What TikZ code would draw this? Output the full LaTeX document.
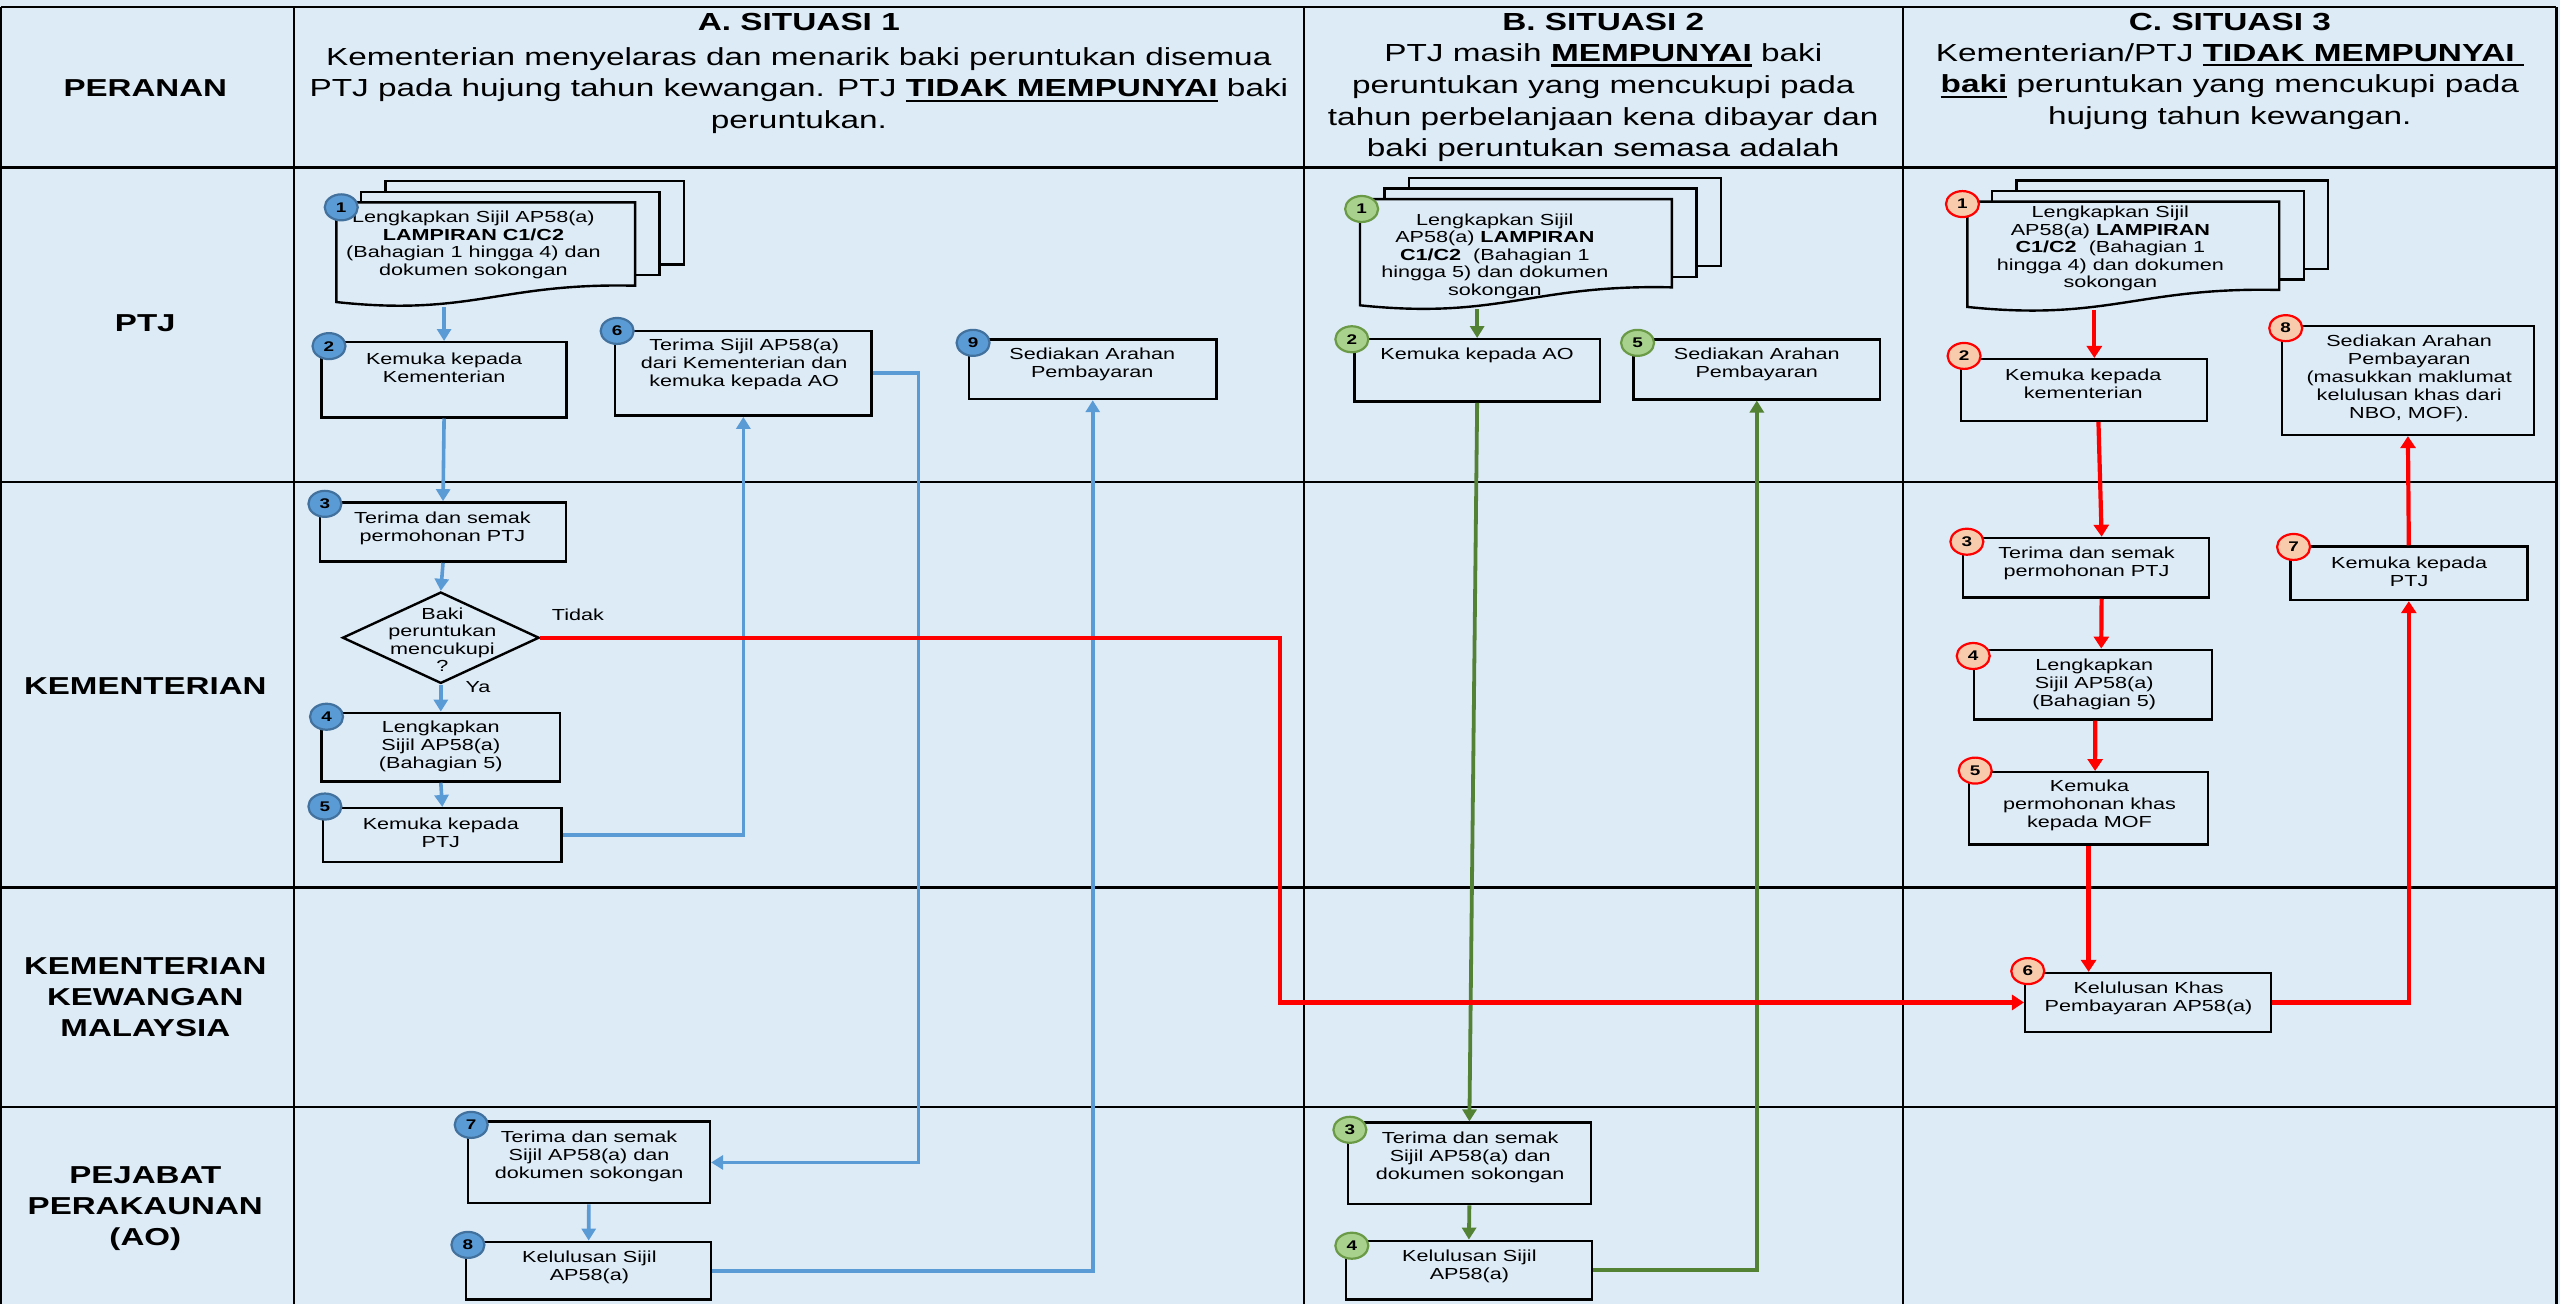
\documentclass[tikz,border=0pt]{standalone}
\usepackage{fontspec}
\setmainfont{Liberation Sans}
\newfontfamily\hf[FakeStretch=1.35]{Liberation Sans}
\usetikzlibrary{arrows.meta,shapes.geometric,fit,calc}
\definecolor{bg}{HTML}{DDEBF7}
\definecolor{blu}{HTML}{5B9BD5}
\definecolor{bluD}{HTML}{41719C}
\definecolor{grn}{HTML}{548235}
\definecolor{grnL}{HTML}{A9D18E}
\definecolor{grnB}{HTML}{6A9A45}
\definecolor{redL}{HTML}{F8CBAD}
\definecolor{rd}{HTML}{FF0000}
\newcommand\ulbold[1]{\vtop{\hbox{\bfseries #1}\kern2.5pt\hrule height 2.4pt}}
\newcommand\docshape[5]{%
  \draw[docln] ({#1+30},{#2-13}) rectangle ({#3+30},{#5-13});
  \draw[docln] ({#1+15},{#2-6.5}) rectangle ({#3+15},{#5-6.5});
  \draw[docln] (#1,#2) -- (#3,#2) -- (#3,#5) .. controls ({#3-0.45*(#3-#1)},{#5-2}) and ({#1+0.45*(#3-#1)},{#4+9}) .. (#1,#4) -- cycle;
}
\begin{document}
\begin{tikzpicture}[x=1.632653pt, y=-1.632653pt,
  grid/.style={line width=2.2pt, black},
  lbl/.style={font=\hf\bfseries\fontsize{24.5}{31}\selectfont, align=center, inner sep=0pt},
  hdr/.style={font=\hf\fontsize{24.7}{31.8}\selectfont, align=center, inner sep=0pt},
  ttl/.style={font=\hf\bfseries\fontsize{24.7}{31.8}\selectfont, align=center, inner sep=0pt},
  box/.style={draw=black, line width=2.4pt, fill=bg, inner sep=0pt},
  docln/.style={draw=black, line width=2.4pt, fill=bg},
  docfit/.style={inner sep=0pt},
  bt/.style={font=\hf\fontsize{16}{18}\selectfont, align=center, inner sep=0pt},
  dt/.style={font=\hf\fontsize{16}{17.5}\selectfont, align=center, inner sep=0pt},
  num/.style={ellipse, minimum width=33pt, minimum height=26pt, inner sep=0pt, line width=2.2pt, font=\hf\bfseries\fontsize{14}{14}\selectfont},
  numA/.style={num, fill=blu, draw=bluD},
  numB/.style={num, fill=grnL, draw=grnB},
  numC/.style={num, fill=redL, draw=rd},
  barrow/.style={draw=blu, line width=3.6pt, -{Triangle[length=12pt,width=14pt]}},
  garrow/.style={draw=grn, line width=3.8pt, -{Triangle[length=12pt,width=14pt]}},
  rarrow/.style={draw=rd, line width=4.2pt, -{Triangle[length=12pt,width=15pt]}}
]
\useasboundingbox (0,0) rectangle (1568,798.7);
\fill[bg] (0,0) rectangle (1568,798.7);

% grid
\draw[grid] (0.6,4.3) -- (1565.8,4.3);
\draw[grid] (0.6,4.3) -- (0.6,798.7);
\draw[grid] (1565.8,4.3) -- (1565.8,798.7);
\foreach \xx in {180,798.5,1165.8} \draw[grid] (\xx,4.3) -- (\xx,798.7);
\foreach \yy in {102.6,295.2,543.6,678} \draw[grid] (0.6,\yy) -- (1565.8,\yy);

% row labels
\node[lbl] (lPer) at (89,54) {PERANAN};
\node[lbl] (lPtj) at (89,198) {PTJ};
\node[lbl] (lKem) at (89,420) {KEMENTERIAN};
\node[lbl] (lKkm) at (89,611) {KEMENTERIAN\\KEWANGAN\\MALAYSIA};
\node[lbl] (lAo) at (89,740) {PEJABAT\\PERAKAUNAN\\(AO)};

% headers
\node[ttl] (hA) at (489.3,13.5) {A. SITUASI 1};
\node[hdr] (hAb) at (489.3,55.5) {Kementerian menyelaras dan menarik baki peruntukan disemua\\PTJ pada hujung tahun kewangan. PTJ \ulbold{TIDAK MEMPUNYAI} baki\\peruntukan.};
\node[ttl] (hB) at (982,13.5) {B. SITUASI 2};
\node[hdr] (hBb) at (982,63) {PTJ masih \ulbold{MEMPUNYAI} baki\\peruntukan yang mencukupi pada\\tahun perbelanjaan kena dibayar dan\\baki peruntukan semasa adalah};
\node[ttl] (hC) at (1365.8,13.5) {C. SITUASI 3};
\node[hdr] (hCb) at (1365.8,53) {Kementerian/PTJ \ulbold{TIDAK MEMPUNYAI\ }\\\ulbold{baki} peruntukan yang mencukupi pada\\hujung tahun kewangan.};

% ---------- documents ----------
\docshape{206}{124}{389}{185}{175}
\node[docfit, fit={(206,124) (389,188)}] (dA) {};
\node[dt] (tA1) at (290,150) {Lengkapkan Sijil AP58(a)\\\textbf{LAMPIRAN C1/C2}\\(Bahagian 1 hingga 4) dan\\dokumen sokongan};

\docshape{833}{122}{1024}{187}{176}
\node[docfit, fit={(833,122) (1024,189)}] (dB) {};
\node[dt] (tB1) at (915.6,157) {Lengkapkan Sijil\\AP58(a) \textbf{LAMPIRAN}\\\textbf{C1/C2}\ \ (Bahagian 1\\hingga 5) dan dokumen\\sokongan};

\docshape{1205}{123.5}{1396}{188}{177.6}
\node[docfit, fit={(1205,123.5) (1396,190)}] (dC) {};
\node[dt] (tC1) at (1292.6,152.3) {Lengkapkan Sijil\\AP58(a) \textbf{LAMPIRAN}\\\textbf{C1/C2}\ \ (Bahagian 1\\hingga 4) dan dokumen\\sokongan};

% ---------- boxes A ----------
\node[box, fit={(197,209.6) (347,255.6)}] (a2) {};
\node[bt] (tA2) at (272,225.5) {Kemuka kepada\\Kementerian};
\node[box, fit={(376.8,202.6) (533.8,254.6)}] (a6) {};
\node[bt] (tA6) at (455.8,223) {Terima Sijil AP58(a)\\dari Kementerian dan\\kemuka kepada AO};
\node[box, fit={(593.6,208) (745,244.4)}] (a9) {};
\node[bt] (tA9) at (669,223.3) {Sediakan Arahan\\Pembayaran};
\node[box, fit={(196,307.7) (346.7,344)}] (a3) {};
\node[bt] (tA3) at (271,323.5) {Terima dan semak\\permohonan PTJ};
\node[diamond, draw=black, line width=2.4pt, fill=bg, inner sep=0pt, minimum width=196.7pt, minimum height=91.4pt] (ad) at (270,390.6) {};
\node[dt] (tAd) at (271,391.7) {Baki\\peruntukan\\mencukupi\\?};
\node[bt] (tTidak) at (354,376.7) {Tidak};
\node[bt] (tYa) at (292.8,420.6) {Ya};
\node[box, fit={(197,436.6) (343,478.7)}] (a4) {};
\node[bt] (tA4) at (270,457.3) {Lengkapkan\\Sijil AP58(a)\\(Bahagian 5)};
\node[box, fit={(198,495) (343.8,528)}] (a5) {};
\node[bt] (tA5) at (270,510) {Kemuka kepada\\PTJ};
\node[box, fit={(286.5,687) (434.8,737)}] (a7) {};
\node[bt] (tA7) at (360.8,708.3) {Terima dan semak\\Sijil AP58(a) dan\\dokumen sokongan};
\node[box, fit={(285.6,760.6) (435.5,796)}] (a8) {};
\node[bt] (tA8) at (361,776) {Kelulusan Sijil\\AP58(a)};

% ---------- boxes B ----------
\node[box, fit={(829.5,207.8) (980,246)}] (b2) {};
\node[bt] (tB2) at (904.7,217.5) {Kemuka kepada AO};
\node[box, fit={(1000.6,208) (1151.5,244.6)}] (b5) {};
\node[bt] (tB5) at (1076,223.3) {Sediakan Arahan\\Pembayaran};
\node[box, fit={(825.6,687.6) (974.4,737.5)}] (b3) {};
\node[bt] (tB3) at (900.5,709) {Terima dan semak\\Sijil AP58(a) dan\\dokumen sokongan};
\node[box, fit={(824.4,760) (975,796)}] (b4) {};
\node[bt] (tB4) at (900,775.5) {Kelulusan Sijil\\AP58(a)};

% ---------- boxes C ----------
\node[box, fit={(1201,220) (1351.6,257.7)}] (c2) {};
\node[bt] (tC2) at (1276,235.3) {Kemuka kepada\\kementerian};
\node[box, fit={(1397.7,199.7) (1552,266.4)}] (c8) {};
\node[bt] (tC8) at (1475.6,231.5) {Sediakan Arahan\\Pembayaran\\(masukkan maklumat\\kelulusan khas dari\\NBO, MOF).};
\node[box, fit={(1202.5,329.5) (1353,366)}] (c3) {};
\node[bt] (tC3) at (1278,345.3) {Terima dan semak\\permohonan PTJ};
\node[box, fit={(1209,398) (1355,440.7)}] (c4) {};
\node[bt] (tC4) at (1282.7,419.2) {Lengkapkan\\Sijil AP58(a)\\(Bahagian 5)};
\node[box, fit={(1206,473) (1352.5,517.3)}] (c5) {};
\node[bt] (tC5) at (1279.8,493) {Kemuka\\permohonan khas\\kepada MOF};
\node[box, fit={(1240.4,596) (1391,632)}] (c6) {};
\node[bt] (tC6) at (1316,611.3) {Kelulusan Khas\\Pembayaran AP58(a)};
\node[box, fit={(1402.8,334.7) (1548,367.5)}] (c7) {};
\node[bt] (tC7) at (1475.6,350.3) {Kemuka kepada\\PTJ};

% ---------- connectors A (blue) ----------
\coordinate (kA) at (562.5,450);
\draw[barrow] (a2.north |- dA.south) -- (a2.north);
\draw[barrow] (a2.south) -- (a3.north);
\draw[barrow] (a3.south) -- (ad.north);
\draw[barrow] (ad.south) -- (a4.north);
\draw[barrow] (a4.south) -- (a5.north);
\draw[barrow] (a5.east) -| (a6.south);
\draw[barrow] (a6.east) -| (kA) |- (a7.east);
\draw[barrow] (a7.south) -- (a8.north);
\draw[barrow] (a8.east) -| (a9.south);

% ---------- connectors B (green) ----------
\draw[garrow] (b2.north |- dB.south) -- (b2.north);
\draw[garrow] (b2.south) -- (b3.north);
\draw[garrow] (b3.south) -- (b4.north);
\draw[garrow] (b4.east) -| (b5.south);

% ---------- connectors C (red) ----------
\coordinate (kR) at (784,500);
\draw[rarrow] (ad.east) -| (kR) |- (c6.west);
\coordinate (c2in) at ($(c2.north)+(6.5,0)$);
\draw[rarrow] (c2in |- dC.south) -- (c2in);
\draw[rarrow] ($(c2.south)+(9,0)$) -- ($(c3.north)+(9.5,0)$);
\draw[rarrow] ($(c3.south)+(9.5,0)$) -- ($(c4.north)+(5,0)$);
\draw[rarrow] ($(c4.south)+(1.3,0)$) -- ($(c5.north)+(4,0)$);
\draw[rarrow] (c5.south) -- (c5.south |- c6.north);
\draw[rarrow] (c6.east) -| (c7.south);
\draw[rarrow] (c7.north) -- (c8.south);

% ---------- number markers ----------
\node[numA] (nA1) at (209,127) {1};
\node[numA] (nA2) at (201.5,212) {2};
\node[numA] (nA6) at (378,202.7) {6};
\node[numA] (nA9) at (596,210) {9};
\node[numA] (nA3) at (199,308.6) {3};
\node[numA] (nA4) at (200,439) {4};
\node[numA] (nA5) at (199,494) {5};
\node[numA] (nA7) at (288.6,689) {7};
\node[numA] (nA8) at (286.6,762.5) {8};

\node[numB] (nB1) at (834,128) {1};
\node[numB] (nB2) at (828,207.8) {2};
\node[numB] (nB5) at (1003,210) {5};
\node[numB] (nB3) at (826.8,692) {3};
\node[numB] (nB4) at (828,763) {4};

\node[numC] (nC1) at (1202,125) {1};
\node[numC] (nC2) at (1203,218) {2};
\node[numC] (nC8) at (1400,201) {8};
\node[numC] (nC3) at (1204.7,331.8) {3};
\node[numC] (nC4) at (1208.6,401.8) {4};
\node[numC] (nC5) at (1209.8,472) {5};
\node[numC] (nC6) at (1242,594.8) {6};
\node[numC] (nC7) at (1404.8,335) {7};
\end{tikzpicture}
\end{document}
